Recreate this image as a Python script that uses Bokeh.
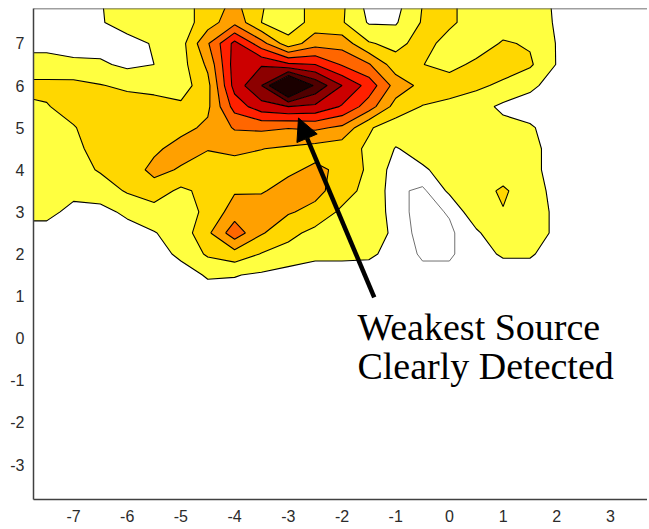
import numpy as np
from bokeh.plotting import figure
from bokeh.models import FixedTicker, Arrow, NormalHead, Span, Label, Range1d
from bokeh.embed import file_html
from bokeh.resources import INLINE

# grid coordinates (x columns, y rows)
x_grid = [-8.0, -7.5, -7.0, -6.5, -6.0, -5.5, -5.0, -4.5, -4.0, -3.5, -3.0, -2.5,
          -2.0, -1.5, -1.0, -0.5, 0.0, 0.5, 1.0, 1.5, 2.0, 2.5, 3.0, 3.5, 4.0]
y_grid = [1.0, 1.5, 2.0, 2.5, 3.0, 3.5, 4.0, 4.5, 5.0, 5.5, 6.0, 6.5, 7.0, 7.5, 8.0]

# field values, one list per grid row
row_8_0 = [0.6, 0.6, 0.6, 0.95, 1.5, 1.5, 1.6, 2.4, 3.2, 2.1, 1.4, 2.4, 2.2, 0.6, 0.6, 2.0, 2.2, 1.5, 1.5, 1.5, 0.85, 0.6, 0.6, 0.6, 0.6]
row_7_5 = [0.6, 0.6, 0.6, 0.9, 1.5, 1.5, 1.5, 2.5, 3.7, 2.0, 1.4, 2.4, 2.1, 0.9, 0.9, 2.1, 2.2, 1.5, 1.5, 1.5, 0.9, 0.6, 0.6, 0.6, 0.6]
row_7_0 = [0.6, 0.6, 0.6, 0.6, 0.6, 1.1, 1.6, 3.9, 6.3, 4.4, 2.4, 3.6, 3.6, 2.1, 1.7, 2.4, 1.6, 1.5, 2.1, 1.9, 0.95, 0.6, 0.6, 0.6, 0.6]
row_6_5 = [1.5, 1.5, 1.2, 1.15, 0.8, 1.0, 1.6, 3.2, 6.5, 6.9, 6.2, 6.0, 4.9, 4.1, 2.45, 2.02, 1.7, 2.2, 2.5, 2.15, 0.95, 0.6, 0.6, 0.6, 0.6]
row_6_0 = [2.2, 2.2, 2.3, 2.05, 1.8, 1.6, 1.5, 2.7, 6.4, 8.0, 11.5, 8.8, 7.0, 5.6, 3.6, 2.7, 2.5, 2.2, 1.8, 1.2, 0.6, 0.6, 0.6, 0.6, 0.6]
row_5_5 = [1.8, 1.95, 2.3, 2.5, 2.5, 2.5, 2.2, 2.8, 5.4, 6.6, 7.0, 6.8, 5.9, 4.5, 2.6, 1.95, 1.7, 1.4, 0.8, 0.6, 0.6, 0.6, 0.6, 0.6, 0.6]
row_5_0 = [1.5, 1.5, 1.95, 2.4, 2.5, 2.6, 2.7, 3.2, 4.1, 4.2, 4.05, 4.2, 3.8, 2.1, 1.5, 1.6, 1.6, 1.5, 1.3, 1.1, 0.6, 0.6, 0.6, 0.6, 0.6]
row_4_5 = [1.5, 1.5, 1.8, 2.3, 2.5, 2.8, 3.4, 3.05, 3.2, 3.02, 2.85, 2.6, 2.4, 1.85, 0.95, 1.3, 1.5, 1.5, 1.5, 1.3, 0.6, 0.6, 0.6, 0.6, 0.6]
row_4_0 = [1.5, 1.5, 1.6, 2.1, 2.4, 3.3, 2.9, 2.5, 2.6, 2.6, 2.8, 3.2, 2.8, 1.8, 0.6, 0.9, 1.3, 1.5, 1.5, 1.3, 0.6, 0.6, 0.6, 0.6, 0.6]
row_3_5 = [1.5, 1.5, 1.3, 1.5, 2.1, 2.5, 1.8, 2.3, 2.9, 2.9, 3.4, 3.3, 2.5, 1.6, 0.6, 0.4, 1.1, 1.6, 2.15, 1.45, 0.7, 0.6, 0.6, 0.6, 0.6]
row_3_0 = [1.3, 1.3, 0.7, 0.7, 1.2, 1.6, 1.6, 2.2, 3.5, 3.6, 3.1, 2.7, 1.8, 1.5, 0.7, 0.3, 0.55, 1.4, 1.95, 1.5, 0.8, 0.6, 0.6, 0.6, 0.6]
row_2_5 = [0.6, 0.6, 0.6, 0.6, 0.6, 0.95, 1.4, 2.8, 4.6, 3.1, 2.3, 1.7, 1.6, 1.5, 0.8, 0.3, 0.4, 0.9, 1.5, 1.5, 0.8, 0.6, 0.6, 0.6, 0.6]
row_2_0 = [0.6, 0.6, 0.6, 0.6, 0.6, 0.6, 1.2, 2.15, 2.6, 1.95, 1.6, 1.2, 1.2, 1.15, 0.7, 0.45, 0.45, 0.7, 1.1, 1.1, 0.6, 0.6, 0.6, 0.6, 0.6]
row_1_5 = [0.6, 0.6, 0.6, 0.6, 0.6, 0.6, 0.6, 1.1, 1.05, 0.85, 0.6, 0.6, 0.6, 0.6, 0.6, 0.6, 0.6, 0.6, 0.6, 0.6, 0.6, 0.6, 0.6, 0.6, 0.6]
row_1_0 = [0.6, 0.6, 0.6, 0.6, 0.6, 0.6, 0.6, 0.6, 0.6, 0.6, 0.6, 0.6, 0.6, 0.6, 0.6, 0.6, 0.6, 0.6, 0.6, 0.6, 0.6, 0.6, 0.6, 0.6, 0.6]

levels = [1, 2, 3, 4, 5, 6, 7, 8, 9, 20]
band_colors = ["#FFFF40", "#FFD700", "#FFA000", "#FF6600", "#FF2000",
               "#CC0000", "#8C0000", "#500000", "#1A0000"]
inner_level = [0.5]

x_ticks = [-7, -6, -5, -4, -3, -2, -1, 0, 1, 2, 3]
x_tick_labels = ["-7", "-6", "-5", "-4", "-3", "-2", "-1", "0", "1", "2", "3"]
y_ticks = [-3, -2, -1, 0, 1, 2, 3, 4, 5, 6, 7]
y_tick_labels = ["-3", "-2", "-1", "0", "1", "2", "3", "4", "5", "6", "7"]

note_line1 = "Weakest Source"
note_line2 = "Clearly Detected"

z = np.array([row_1_0, row_1_5, row_2_0, row_2_5, row_3_0, row_3_5, row_4_0,
              row_4_5, row_5_0, row_5_5, row_6_0, row_6_5, row_7_0, row_7_5, row_8_0])
xg = np.array(x_grid)
yg = np.array(y_grid)

p = figure(frame_width=614, frame_height=491, output_backend="svg",
           toolbar_location=None, x_range=Range1d(-7.745, -7.745 + 614 / 53.7),
           y_range=Range1d(-3.83, 7.83), min_border_left=33, min_border_top=8,
           min_border_right=0, min_border_bottom=0)
p.outline_line_color = None
p.grid.visible = False
p.background_fill_color = "white"

p.contour(xg, yg, z, levels=levels, fill_color=band_colors,
          line_color="black", line_width=1.1)
p.contour(xg, yg, z, levels=inner_level, line_color="#707070", line_width=1.0)

for ax, ticks, labels in ((p.xaxis[0], x_ticks, x_tick_labels),
                          (p.yaxis[0], y_ticks, y_tick_labels)):
    ax.ticker = FixedTicker(ticks=ticks)
    ax.major_label_overrides = {t: l for t, l in zip(ticks, labels)}
    ax.major_tick_line_color = None
    ax.minor_tick_line_color = None
    ax.major_tick_out = 0
    ax.major_tick_in = 0
    ax.axis_line_color = "#404040"
    ax.axis_line_width = 1.5
    ax.major_label_text_font = "Liberation Sans"
    ax.major_label_text_font_size = "16px"
    ax.major_label_text_color = "#2b2b2b"
p.xaxis.major_label_standoff = 10
p.yaxis.major_label_standoff = 9

p.add_layout(Span(location=7.83, dimension="width", line_color="#404040",
                  line_width=1.5))

p.add_layout(Arrow(end=NormalHead(size=22, fill_color="black", line_color="black"),
                   x_start=-1.40, y_start=0.97, x_end=-2.81, y_end=5.23,
                   line_width=4.5, line_color="black"))

p.add_layout(Label(x=-1.713, y=0.261, text=note_line1, text_font="Liberation Serif",
                   text_font_size="38px", text_color="black",
                   text_baseline="alphabetic", text_align="left"))
p.add_layout(Label(x=-1.713, y=-0.665, text=note_line2, text_font="Liberation Serif",
                   text_font_size="38px", text_color="black",
                   text_baseline="alphabetic", text_align="left"))

open("out.html", "w").write(file_html(p, INLINE))
